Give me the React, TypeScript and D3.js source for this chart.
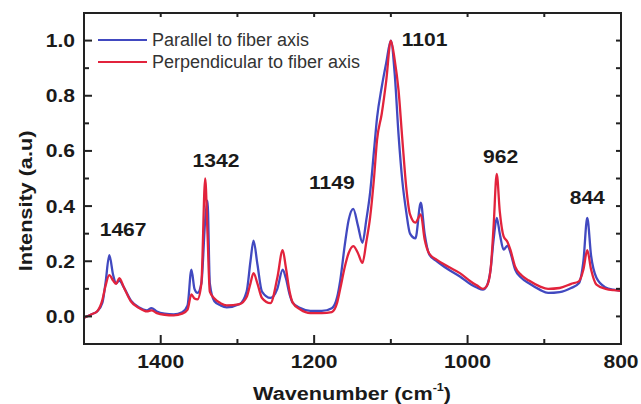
import React from "react";
import * as d3 from "d3";

const wavenumbers = [1500, 1490, 1483, 1476, 1472, 1467, 1462, 1458, 1454, 1448, 1439, 1428, 1418, 1412, 1405, 1395, 1383, 1372, 1365, 1360, 1356, 1352, 1347, 1342, 1339, 1336, 1330, 1322, 1314, 1297, 1288, 1283, 1279, 1274, 1268, 1257, 1248, 1241, 1237, 1232, 1228, 1218, 1205, 1190, 1177, 1170, 1166, 1160, 1155, 1149, 1143, 1137, 1132, 1127, 1122, 1118, 1112, 1106, 1100, 1095, 1090, 1085, 1080, 1075, 1068, 1061, 1056, 1050, 1040, 1025, 1010, 995, 988, 980, 975, 970, 966, 962, 958, 953, 948, 944, 938, 930, 920, 906, 895, 880, 865, 855, 849, 844, 839, 832, 820, 810, 800];

const parallel = [-0.005, 0.008, 0.018, 0.05, 0.12, 0.222, 0.15, 0.12, 0.13, 0.105, 0.058, 0.032, 0.022, 0.03, 0.018, 0.01, 0.007, 0.015, 0.04, 0.17, 0.1, 0.085, 0.12, 0.35, 0.42, 0.12, 0.055, 0.04, 0.033, 0.045, 0.09, 0.2, 0.275, 0.19, 0.09, 0.067, 0.1, 0.17, 0.14, 0.08, 0.05, 0.03, 0.02, 0.02, 0.03, 0.07, 0.13, 0.26, 0.35, 0.39, 0.33, 0.267, 0.35, 0.45, 0.6, 0.72, 0.83, 0.92, 1.0, 0.88, 0.66, 0.49, 0.38, 0.3, 0.283, 0.412, 0.3, 0.225, 0.2, 0.17, 0.145, 0.115, 0.105, 0.097, 0.11, 0.17, 0.28, 0.357, 0.3, 0.242, 0.257, 0.23, 0.17, 0.14, 0.12, 0.097, 0.085, 0.088, 0.103, 0.12, 0.2, 0.357, 0.22, 0.14, 0.105, 0.097, 0.093];

const perpendicular = [-0.005, 0.008, 0.018, 0.06, 0.11, 0.15, 0.13, 0.118, 0.139, 0.105, 0.055, 0.03, 0.018, 0.022, 0.012, 0.006, 0.004, 0.01, 0.025, 0.08, 0.065, 0.062, 0.12, 0.5, 0.3, 0.09, 0.065, 0.048, 0.04, 0.045, 0.07, 0.12, 0.157, 0.12, 0.067, 0.048, 0.14, 0.24, 0.18, 0.09, 0.05, 0.025, 0.012, 0.012, 0.016, 0.05, 0.1, 0.18, 0.23, 0.255, 0.23, 0.194, 0.27, 0.36, 0.5, 0.64, 0.733, 0.855, 1.0, 0.93, 0.82, 0.64, 0.47, 0.37, 0.34, 0.37, 0.28, 0.228, 0.205, 0.18, 0.157, 0.125, 0.113, 0.1, 0.11, 0.17, 0.33, 0.517, 0.38, 0.29, 0.27, 0.24, 0.18, 0.15, 0.13, 0.109, 0.1, 0.103, 0.118, 0.127, 0.17, 0.24, 0.17, 0.115, 0.1, 0.095, 0.093];

const seriesNames = ["Parallel to fiber axis", "Perpendicular to fiber axis"];
const yTickValues = [0, 0.2, 0.4, 0.6, 0.8, 1.0];
const yMinorValues = [0.1, 0.3, 0.5, 0.7, 0.9];
const xTickValues = [1400, 1200, 1000, 800];
const xMinorValues = [1300, 1100, 900];
const xTopValues = [1400, 1300, 1200, 1100, 1000, 900];
const yRightValues = [0, 0.1, 0.2, 0.3, 0.4, 0.5, 0.6, 0.7, 0.8, 0.9, 1.0];
const peakLabels = ["1467", "1342", "1149", "1101", "962", "844"];
const peakLabelWn = [1449, 1328, 1177, 1056, 957, 844];
const peakLabelVal = [0.291, 0.542, 0.462, 0.982, 0.556, 0.407];

const W = 641, H = 404;
const L = 84, R = 621, T = 13, B = 344;
const BLUE = "#4149c0";
const RED = "#e2233c";
const SX = 1.14;

function BoldText({ x, y, children, anchor = "middle", size = 18.5 }: any) {
  return (
    <text
      transform={`translate(${x},${y}) scale(${SX},1)`}
      textAnchor={anchor}
      fontFamily="'Liberation Sans', Arial, sans-serif"
      fontWeight="bold"
      fontSize={size}
      fill="#1a1a1a"
    >
      {children}
    </text>
  );
}

export default function App() {
  const x = d3.scaleLinear().domain([1500, 800]).range([L, R]);
  const y = d3.scaleLinear().domain([-0.1, 1.1]).range([B, T]);
  const line = (vals: number[]) =>
    d3
      .line<number>()
      .x((_, i) => x(wavenumbers[i]))
      .y((v) => y(v))
      .curve(d3.curveMonotoneX)(vals) || "";

  return (
    <svg width={W} height={H} style={{ position: "absolute", left: 0, top: 0, background: "#fff" }}>
      <defs>
        <clipPath id="plot">
          <rect x={L} y={T} width={R - L} height={B - T} />
        </clipPath>
      </defs>
      <g clipPath="url(#plot)">
        <path d={line(parallel)} fill="none" stroke={BLUE} strokeWidth={2.3} strokeLinejoin="round" />
        <path d={line(perpendicular)} fill="none" stroke={RED} strokeWidth={2.3} strokeLinejoin="round" />
      </g>
      <rect x={L} y={T} width={R - L} height={B - T} fill="none" stroke="#222" strokeWidth={2} />
      {yTickValues.map((v) => (
        <line key={"yl" + v} x1={L} x2={L + 8} y1={y(v)} y2={y(v)} stroke="#222" strokeWidth={2} />
      ))}
      {yMinorValues.map((v) => (
        <line key={"ym" + v} x1={L} x2={L + 5} y1={y(v)} y2={y(v)} stroke="#222" strokeWidth={2} />
      ))}
      {yRightValues.map((v) => (
        <line key={"yr" + v} x1={R} x2={R - 5} y1={y(v)} y2={y(v)} stroke="#222" strokeWidth={2} />
      ))}
      {xTickValues.map((v) => (
        <line key={"xb" + v} x1={x(v)} x2={x(v)} y1={B} y2={B - 9} stroke="#222" strokeWidth={2} />
      ))}
      {xMinorValues.map((v) => (
        <line key={"xm" + v} x1={x(v)} x2={x(v)} y1={B} y2={B - 5} stroke="#222" strokeWidth={2} />
      ))}
      {xTopValues.map((v) => (
        <line key={"xt" + v} x1={x(v)} x2={x(v)} y1={T} y2={T + 4} stroke="#222" strokeWidth={2} />
      ))}
      {yTickValues.map((v) => (
        <BoldText key={"ylab" + v} x={75} y={y(v) + 6.5} anchor="end">
          {d3.format(".1f")(v)}
        </BoldText>
      ))}
      {xTickValues.map((v) => (
        <BoldText key={"xlab" + v} x={x(v)} y={368}>
          {String(v)}
        </BoldText>
      ))}
      <text
        transform={`translate(352,400) scale(${SX},1)`}
        textAnchor="middle"
        fontFamily="'Liberation Sans', Arial, sans-serif"
        fontWeight="bold"
        fontSize={19}
        fill="#1a1a1a"
      >
        Wavenumber (cm
        <tspan fontSize={11} dy={-9}>-1</tspan>
        <tspan dy={9}>)</tspan>
      </text>
      <text
        transform={`translate(32,201) rotate(-90) scale(${SX},1)`}
        textAnchor="middle"
        fontFamily="'Liberation Sans', Arial, sans-serif"
        fontWeight="bold"
        fontSize={19}
        fill="#1a1a1a"
      >
        Intensity (a.u)
      </text>
      {peakLabels.map((t, i) => (
        <BoldText key={"pk" + t} x={x(peakLabelWn[i])} y={y(peakLabelVal[i])}>
          {t}
        </BoldText>
      ))}
      {seriesNames.map((n, i) => (
        <g key={n}>
          <line x1={98} x2={147} y1={40 + i * 22} y2={40 + i * 22} stroke={i === 0 ? BLUE : RED} strokeWidth={2} />
          <text
            x={152}
            y={46 + i * 22}
            fontFamily="'Liberation Sans', Arial, sans-serif"
            fontSize={18}
            fill="#333"
          >
            {n}
          </text>
        </g>
      ))}
    </svg>
  );
}
